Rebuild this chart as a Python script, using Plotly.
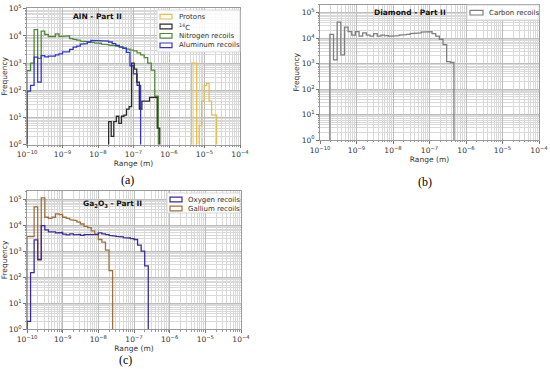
import numpy as np
import plotly.graph_objects as go

# ---------------- data (log10 of bin start, log10 bin width, counts) ----------------
x_tick_exp = [-10, -9, -8, -7, -6, -5, -4]
y_tick_exp = [0, 1, 2, 3, 4, 5]

# (a) AlN - Part II
protons_start, protons_width = -5.36, 0.07
protons_counts = [1000, 1000, 0, 5, 40, 150, 180, 40, 12, 12]

c14_start, c14_width = -7.70, 0.072
c14_counts = [7, 2, 7, 11, 6, 11, 12, 20, 25, 1000, 600, 200, 20, 40, 40, 40, 55, 55, 55, 4]

nitrogen_start, nitrogen_width = -10.0, 0.1
nitrogen_counts = [530, 1000, 17000, 1500, 15000, 11500, 9500, 9500, 12000, 9500, 9500,
                   10000, 8000, 7500, 7000, 6500, 6200, 6000, 5800, 5600, 5400, 5000,
                   4800, 4600, 4400, 4200, 4000, 3600, 3300, 3000, 2800, 2400, 2000,
                   1600, 1000, 550, 60]

aluminum_start, aluminum_width = -10.0, 0.1
aluminum_counts = [92, 150, 1660, 200, 1900, 1700, 1800, 1800, 2000, 2200, 2600, 2600,
                   3200, 3900, 4200, 5000, 5200, 6000, 6900, 6900, 6900, 6700, 6500,
                   6000, 5200, 4500, 3900, 3500, 2500, 800, 400, 150]

# (b) Diamond - Part II
carbon_start, carbon_width = -9.73, 0.1
carbon_counts = [14000, 1400, 42000, 2200, 27000, 18000, 13000, 18000, 12000, 16000,
                 13000, 12000, 15000, 12000, 13000, 12500, 12000, 12000, 12500, 13000,
                 13500, 14000, 15000, 15500, 16000, 17000, 17500, 18000, 15000, 12000,
                 9000, 5500, 1200, 1100]

# (c) Ga2O3 - Part II
oxygen_start, oxygen_width = -10.0, 0.1
oxygen_counts = [2, 150, 2700, 480, 9500, 6500, 5500, 5500, 5000, 5200, 4500, 4200,
                 4600, 4200, 4400, 4000, 4300, 4200, 4400, 4300, 5000, 4600, 4300,
                 4000, 3800, 3700, 3500, 3300, 3200, 3000, 2800, 1700, 1000, 270]

gallium_start, gallium_width = -10.0, 0.1
gallium_counts = [3600, 3600, 50000, 450, 110000, 20000, 18000, 20000, 27000, 25000,
                  20000, 18000, 16000, 15000, 13000, 11000, 9000, 8000, 6000, 4500,
                  2800, 2200, 1100, 180]

panel_titles = ["<b>AlN - Part II</b>", "<b>Diamond - Part II</b>",
                "<b>Ga<sub>2</sub>O<sub>3</sub> - Part II</b>"]
panel_labels = ["(a)", "(b)", "(c)"]

# ---------------- helpers ----------------
BASE = 1e-3  # below the visible range -> line drops to the axis


def step_xy(start, width, counts):
    n = len(counts)
    edges = 10 ** (start + width * np.arange(n + 1))
    xs, ys = [edges[0]], [BASE]
    for i, c in enumerate(counts):
        v = c if c > 0 else BASE
        xs += [edges[i], edges[i + 1]]
        ys += [v, v]
    xs.append(edges[-1])
    ys.append(BASE)
    return xs, ys


FONT = "DejaVu Sans"
W, H = 550, 369


def px_x(p):
    return p / W


def px_y(p):
    return 1 - p / H


fig = go.Figure()

series = [
    # name, start, width, counts, color, axis suffix, legend id
    ("Protons", protons_start, protons_width, protons_counts, "#E6BE4E", "", 0),
    ("<sup>14</sup>C", c14_start, c14_width, c14_counts, "#2b2b2b", "", 0),
    ("Nitrogen recoils", nitrogen_start, nitrogen_width, nitrogen_counts, "#4E8A35", "", 0),
    ("Aluminum recoils", aluminum_start, aluminum_width, aluminum_counts, "#3434D0", "", 0),
    ("Carbon recoils", carbon_start, carbon_width, carbon_counts, "#7f7f7f", "2", 1),
    ("Oxygen recoils", oxygen_start, oxygen_width, oxygen_counts, "#3D2B9A", "3", 2),
    ("Gallium recoils", gallium_start, gallium_width, gallium_counts, "#A0703F", "3", 2),
]

draw_order = [2, 3, 1, 0, 4, 6, 5]
for idx in draw_order:
    name, st, w, cnt, col, ax, lg = series[idx]
    xs, ys = step_xy(st, w, cnt)
    fig.add_trace(go.Scatter(x=xs, y=ys, mode="lines", line=dict(color=col, width=1.3),
                             xaxis="x" + ax, yaxis="y" + ax, showlegend=False,
                             name=name, hoverinfo="skip"))

x_tickvals = [10.0 ** e for e in x_tick_exp]
x_ticktext = ["10<sup>\u2212%d</sup>" % (-e) for e in x_tick_exp]
y_tickvals = [10.0 ** e for e in y_tick_exp]
y_ticktext = ["10<sup>%d</sup>" % e for e in y_tick_exp]
x_minor = [m * 10.0 ** e for e in range(-10, -4) for m in range(2, 10)]
y_minor = [m * 10.0 ** e for e in range(0, 6) for m in range(2, 10)]


def xaxis(domain, anchor):
    return dict(type="log", domain=domain, anchor=anchor, range=[-10, -4],
                automargin=False,
                tickmode="array", tickvals=x_tickvals, ticktext=x_ticktext,
                tickfont=dict(family=FONT, size=7.5, color="#333"),
                ticks="outside", ticklen=3, tickcolor="#777",
                showgrid=True, gridcolor="#bdbdbd", gridwidth=0.7,
                minor=dict(tickmode="array", tickvals=x_minor, showgrid=True,
                           gridcolor="#d9d9d9", gridwidth=0.6, ticks="outside",
                           ticklen=1.5, tickcolor="#999"),
                showline=True, linecolor="#9a9a9a", linewidth=0.8, mirror=True,
                zeroline=False,
                title=dict(text="Range (m)", font=dict(family=FONT, size=7.5, color="#333"),
                           standoff=2))


def yaxis(domain, anchor, top):
    return dict(type="log", domain=domain, anchor=anchor, range=[0, top],
                automargin=False,
                tickmode="array", tickvals=y_tickvals, ticktext=y_ticktext,
                tickfont=dict(family=FONT, size=7.5, color="#333"),
                ticks="outside", ticklen=3, tickcolor="#777",
                showgrid=True, gridcolor="#bdbdbd", gridwidth=0.7,
                minor=dict(tickmode="array", tickvals=y_minor, showgrid=True,
                           gridcolor="#d9d9d9", gridwidth=0.6, ticks="outside",
                           ticklen=1.5, tickcolor="#999"),
                showline=True, linecolor="#9a9a9a", linewidth=0.8, mirror=True,
                zeroline=False,
                title=dict(text="Frequency", font=dict(family=FONT, size=7.5, color="#333"),
                           standoff=1))


fig.update_layout(
    width=W, height=H, margin=dict(l=0, r=0, t=0, b=0, autoexpand=False),
    paper_bgcolor="white", plot_bgcolor="white",
    font=dict(family=FONT, size=7.5, color="#333"),
    xaxis=xaxis([px_x(27), px_x(240)], "y"),
    yaxis=yaxis([px_y(144.5), px_y(8.3)], "x", 5.02),
    xaxis2=xaxis([px_x(320), px_x(539)], "y2"),
    yaxis2=yaxis([px_y(140), px_y(4.7)], "x2", 5.31),
    xaxis3=xaxis([px_x(27), px_x(241)], "y3"),
    yaxis3=yaxis([px_y(329.3), px_y(190.7)], "x3", 5.32),
    showlegend=False,
)

# ---------------- manual legends (matplotlib-like, compact rows) ----------------
legend_boxes = [(157, 10, 240, 52), (467, 5, 539, 20), (167, 193, 240, 213)]
legend_rows = {0: [16.7, 26.5, 35.8, 45.3], 1: [12.7], 2: [199.5, 208.5]}
handle_x = {0: (160, 172), 1: (470, 483), 2: (170, 182)}
text_x = {0: 177, 1: 487, 2: 186}

shapes = []
for (x0, y0, x1, y1) in legend_boxes:
    shapes.append(dict(type="rect", xref="paper", yref="paper",
                       x0=px_x(x0), x1=px_x(x1), y0=px_y(y1), y1=px_y(y0),
                       fillcolor="rgba(255,255,255,0.85)", line=dict(color="#cfcfcf", width=0.8),
                       layer="above"))
counter = {0: 0, 1: 0, 2: 0}
for name, st, w, cnt, col, ax, lg in series:
    ry = legend_rows[lg][counter[lg]]
    counter[lg] += 1
    hx0, hx1 = handle_x[lg]
    shapes.append(dict(type="rect", xref="paper", yref="paper",
                       x0=px_x(hx0), x1=px_x(hx1), y0=px_y(ry + 2.3), y1=px_y(ry - 2.3),
                       fillcolor="white", line=dict(color=col, width=1.2), layer="above"))
    fig.add_annotation(x=px_x(text_x[lg]), y=px_y(ry), xref="paper", yref="paper",
                       text=name, showarrow=False, xanchor="left", yanchor="middle",
                       font=dict(family=FONT, size=7, color="#333"))
fig.update_layout(shapes=shapes)

title_pos = [(97, 16), (410, 13), (112, 204)]
label_pos = [(127, 180), (425, 182), (125, 360)]
for (tx, ty), t in zip(title_pos, panel_titles):
    fig.add_annotation(x=px_x(tx), y=px_y(ty), xref="paper", yref="paper", text=t,
                       showarrow=False, xanchor="center", yanchor="middle",
                       font=dict(family=FONT, size=7.5, color="#111"))
for (lx, ly), t in zip(label_pos, panel_labels):
    fig.add_annotation(x=px_x(lx), y=px_y(ly), xref="paper", yref="paper", text=t,
                       showarrow=False, xanchor="center", yanchor="middle",
                       font=dict(family="Liberation Serif", size=12, color="#000"))

fig.write_html("out.html", config={"displayModeBar": False},
               post_script="document.body.style.margin='0';document.body.style.padding='0';")
